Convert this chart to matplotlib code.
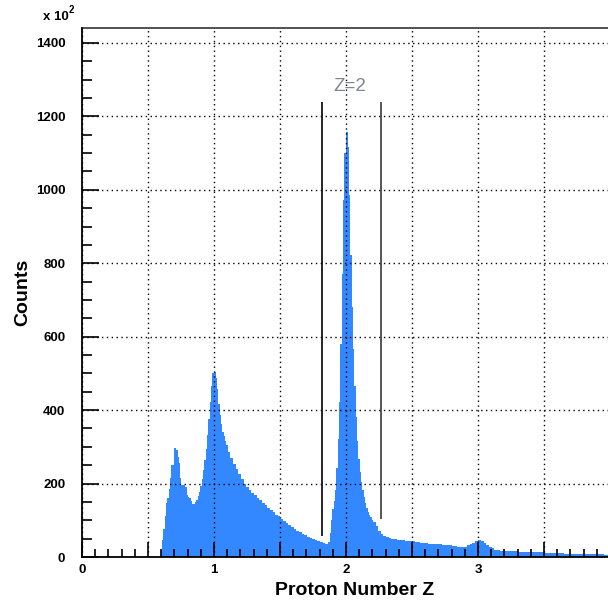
"""Proton number Z spectrum, ROOT-style filled histogram."""

import matplotlib
matplotlib.use("Agg")
import matplotlib.pyplot as plt
import numpy as np
from matplotlib import ticker

plt.rcParams["font.family"] = ["Liberation Sans", "DejaVu Sans"]

# Histogram counts (x 10^2) in segments of equal bin width.
# (start, stop, bin width) for each segment.
seg_low = (0.60, 1.10, 0.01)
counts_low = [
    15, 45, 75, 110, 145, 160, 185, 215, 250, 235,
    295, 290, 270, 255, 215, 195, 185, 195, 190, 168,
    162, 160, 150, 144, 142, 143, 148, 155, 165, 177,
    192, 212, 235, 262, 293, 330, 375, 420, 465, 500,
    503, 485, 455, 415, 385, 360, 340, 327, 315, 303,
]
seg_tail1 = (1.10, 1.86, 0.02)
counts_tail1 = [
    285, 267, 252, 238, 225, 210, 198, 190, 182, 174,
    167, 160, 153, 147, 140, 133, 126, 120, 114, 109,
    103, 97, 91, 85, 80, 75, 70, 66, 62, 58,
    54, 51, 48, 45, 43, 40, 37, 34,
]
seg_he = (1.86, 2.20, 0.01)
counts_he = [
    33, 40, 65, 100, 130, 150, 180, 240, 320, 420,
    580, 770, 970, 1100, 1155, 1115, 985, 820, 680, 565,
    465, 380, 315, 265, 230, 202, 180, 161, 146, 133,
    122, 114, 108, 100,
]
seg_tail2 = (2.20, 3.20, 0.02)
counts_tail2 = [
    93, 83, 70, 62, 56, 52, 50, 48, 47, 46,
    45, 44, 43, 42, 42, 41, 40, 39, 38, 37,
    36, 35, 35, 34, 33, 33, 32, 31, 30, 30,
    29, 28, 27, 26, 26, 27, 30, 34, 38, 42,
    44, 42, 37, 31, 26, 22, 19, 17, 16, 16,
]
seg_high = (3.20, 4.00, 0.05)
counts_high = [15, 14, 13, 13, 12, 11, 10, 10, 9, 8, 8, 7, 7, 6, 6, 5]

# Z=2 selection cut lines: (position, bottom, top)
cut_lo = (1.818, 57, 1240)
cut_hi = (2.265, 103, 1240)
cut_label = "Z=2"

segments = [
    (seg_low, counts_low),
    (seg_tail1, counts_tail1),
    (seg_he, counts_he),
    (seg_tail2, counts_tail2),
    (seg_high, counts_high),
]

edges = [segments[0][0][0]]
counts = []
for (start, stop, width), vals in segments:
    n = len(vals)
    edges.extend(list(start + width * np.arange(1, n + 1)))
    counts.extend(vals)
edges = np.round(np.array(edges), 6)
counts = np.array(counts, dtype=float)

FILL = "#3388ff"

fig = plt.figure(figsize=(6.08, 6.05), dpi=100)
ax = fig.add_axes([82 / 608, 48 / 605, 526 / 608, 529.5 / 605])

# filled step histogram; rectilinear, so no antialiasing needed
ax.stairs(counts, edges, fill=True, facecolor=FILL, edgecolor="none",
          linewidth=0, antialiased=False, snap=False, zorder=2)

ax.vlines(cut_lo[0], cut_lo[1], cut_lo[2], color="black", lw=1.2, zorder=4)
ax.vlines(cut_hi[0], cut_hi[1], cut_hi[2], color="#3a3a3a", lw=1.2, zorder=4)
ax.text(2.03, 1281, cut_label, ha="center", va="center", fontsize=13.5,
        color="#7a8896", zorder=5)

ax.set_xlim(0, 526 / 132)
ax.set_ylim(0, 1442)

# ticks
ax.xaxis.set_major_locator(ticker.MultipleLocator(0.5))
ax.xaxis.set_minor_locator(ticker.MultipleLocator(0.1))
ax.xaxis.set_major_formatter(
    ticker.FuncFormatter(lambda v, p: f"{v:.0f}" if abs(v - round(v)) < 1e-6 else ""))
ax.yaxis.set_major_locator(ticker.MultipleLocator(200))
ax.yaxis.set_minor_locator(ticker.MultipleLocator(50))
ax.tick_params(which="both", direction="in", top=False, right=False,
               width=1.2, colors="black")
ax.tick_params(which="major", length=11, labelsize=9.5, pad=5)
ax.tick_params(which="minor", length=5.5)
ax.tick_params(axis="y", which="major", length=12, pad=12)
ax.tick_params(axis="y", which="minor", length=7)
for lab in ax.get_xticklabels() + ax.get_yticklabels():
    lab.set_fontweight("bold")

ax.grid(True, which="major", color="black", linestyle=(0, (1, 2.5)), lw=1.0,
        zorder=3)
ax.set_axisbelow(False)

for side in ("left", "bottom"):
    ax.spines[side].set_linewidth(1.3)
    ax.spines[side].set_zorder(6)
ax.spines["top"].set_linewidth(1.2)
ax.spines["top"].set_color("#333333")
ax.spines["right"].set_visible(False)

ax.set_xlabel("Proton Number Z", fontsize=14, fontweight="bold")
ax.set_ylabel("Counts", fontsize=14, fontweight="bold")
ax.xaxis.set_label_coords((354.5 - 82) / 526, -25 / 529.5)
ax.yaxis.set_label_coords(-51 / 526, 0.5)

fig.text(43 / 608, 1 - 20 / 605, "x 10", fontsize=9.5, fontweight="bold",
         ha="left", va="baseline")
fig.text(69 / 608, 1 - 13 / 605, "2", fontsize=7, fontweight="bold",
         ha="left", va="baseline")

fig.savefig("out.png", dpi=100)
